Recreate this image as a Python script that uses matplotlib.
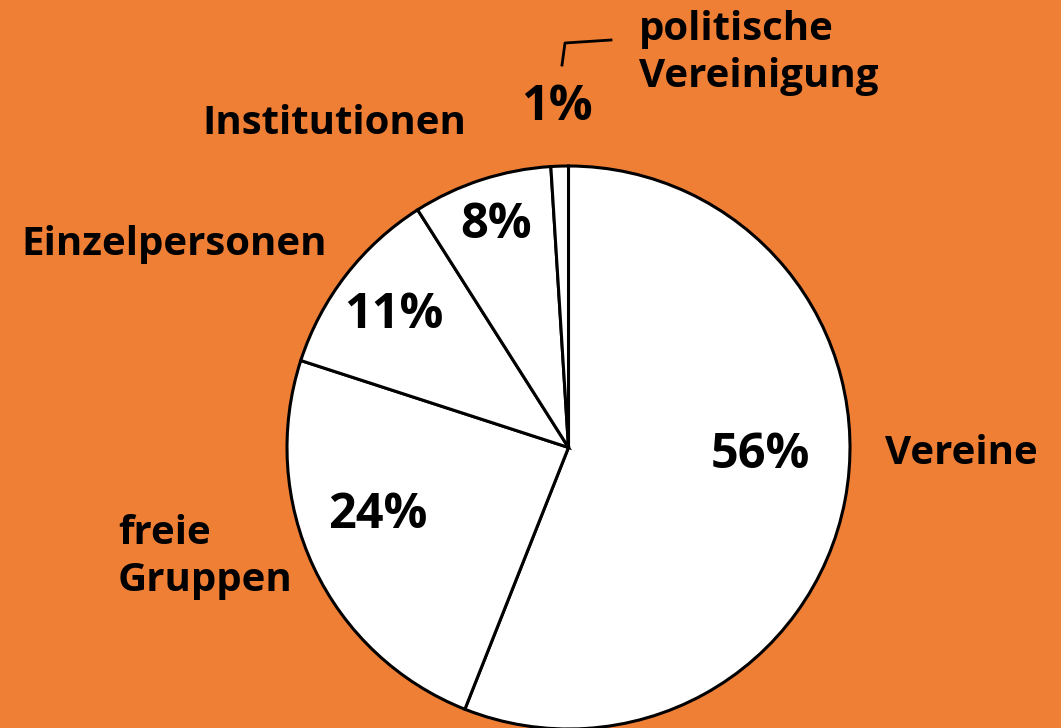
import matplotlib
matplotlib.use("Agg")
import matplotlib.pyplot as plt

categories = ["Vereine", "freie\nGruppen", "Einzelpersonen", "Institutionen", "politische\nVereinigung"]
shares = [56, 24, 11, 8, 1]
pct_labels = ["56%", "24%", "11%", "8%", "1%"]

BG = "#F07F36"
W, H = 1061, 728

plt.rcParams["font.family"] = ["Open Sans", "DejaVu Sans"]

fig = plt.figure(figsize=(W / 100, H / 100), dpi=100, facecolor=BG)
ax = fig.add_axes([0, 0, 1, 1])

cx, cy, r = 568.5, H - 447.5, 281.5
ax.pie(shares, startangle=90, counterclock=False, center=(cx, cy), radius=r,
       colors=["white"] * len(shares),
       wedgeprops=dict(edgecolor="black", linewidth=2.2), frame=True)
ax.set_xlim(0, W)
ax.set_ylim(0, H)
ax.set_aspect("equal")
ax.axis("off")

# percentage labels
pct_pos = [(760, 455), (378, 516), (394, 316), (496, 226), (557, 108)]
for t, (x, y) in zip(pct_labels, pct_pos):
    ax.text(x, H - y, t, fontsize=35, fontweight="bold", ha="center", va="center", color="black")

# category labels
cat_kw = dict(fontsize=29, fontweight="bold", ha="left", va="center", color="black")
ax.text(885, H - 454, categories[0], **cat_kw)
ax.text(118, H - 557, categories[1], linespacing=1.25, **cat_kw)
ax.text(21, H - 244, categories[2], **cat_kw)
ax.text(202, H - 124, categories[3], **cat_kw)
ax.text(639, H - 53, categories[4], linespacing=1.25, **cat_kw)

# leader line for the smallest slice
ax.plot([562, 565, 611], [H - 65, H - 43, H - 40], color="black", lw=2)

fig.savefig("out.png", dpi=100, facecolor=BG)
